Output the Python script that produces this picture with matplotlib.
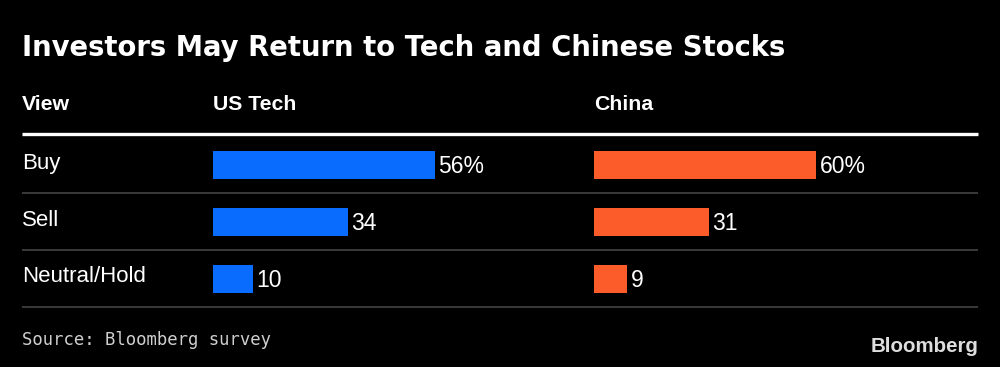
import matplotlib.pyplot as plt
from matplotlib.transforms import offset_copy

# Données
views = ["Buy", "Sell", "Neutral/Hold"]
us_tech = [56, 34, 10]
china = [60, 31, 9]
labels_us = ["56%", "34", "10"]
labels_cn = ["60%", "31", "9"]

BG = "black"
BLUE = "#0a6cff"
ORANGE = "#fc5b2a"
SANS = "Liberation Sans"

W, H = 1000, 367
fig = plt.figure(figsize=(W / 100, H / 100), dpi=100, facecolor=BG)

# axe de fond en pixels pour textes et lignes
bg = fig.add_axes([0, 0, 1, 1])
bg.set_xlim(0, W)
bg.set_ylim(H, 0)
bg.axis("off")
bg.set_facecolor(BG)

bg.text(22, 48, "Investors May Return to Tech and Chinese Stocks", color="white",
        fontsize=19.8, fontweight="bold", family="DejaVu Sans", va="center", ha="left")
for x, txt in [(22, "View"), (213, "US Tech"), (594, "China")]:
    bg.text(x, 104, txt, color="white", fontsize=15.3, fontweight="bold",
            family=SANS, va="center", ha="left")
bg.plot([22, 978], [133.5, 133.5], color="white", lw=2.4, solid_capstyle="butt")
for y in [192.5, 249.5, 306.5]:
    bg.plot([22, 978], [y, y], color="#4a4a4a", lw=1.1, solid_capstyle="butt")

row_y = [165, 222, 279]
for y, v in zip(row_y, views):
    bg.text(22, y - 2, v, color="white", fontsize=16, family=SANS, va="center", ha="left")

bg.text(22, 340, "Source: Bloomberg survey", color="#cfcfcf", fontsize=12.4,
        family="DejaVu Sans Mono", va="center", ha="left")
bg.text(978, 347, "Bloomberg", color="#dddddd", fontsize=14.8, fontweight="bold",
        family=SANS, va="center", ha="right")


def panel(left_px, scale, values, labels, color):
    width_px = 330
    top, bottom = 136.5, 307.5
    ax = fig.add_axes([left_px / W, 1 - bottom / H, width_px / W, (bottom - top) / H])
    ax.set_xlim(0, width_px / scale)
    ax.set_ylim(2.5, -0.5)
    ax.axis("off")
    ax.patch.set_alpha(0)
    ax.barh(range(len(values)), values, height=0.49, color=color)
    tr = offset_copy(ax.transData, fig=fig, x=2.5, y=-1, units="points")
    for i, (v, lab) in enumerate(zip(values, labels)):
        ax.text(v, i, lab, transform=tr, color="white", fontsize=16.5,
                family=SANS, va="center", ha="left")
    return ax


panel(213, 222 / 56, us_tech, labels_us, BLUE)
panel(594, 222 / 60, china, labels_cn, ORANGE)

fig.savefig("out.png", dpi=100, facecolor=BG)
